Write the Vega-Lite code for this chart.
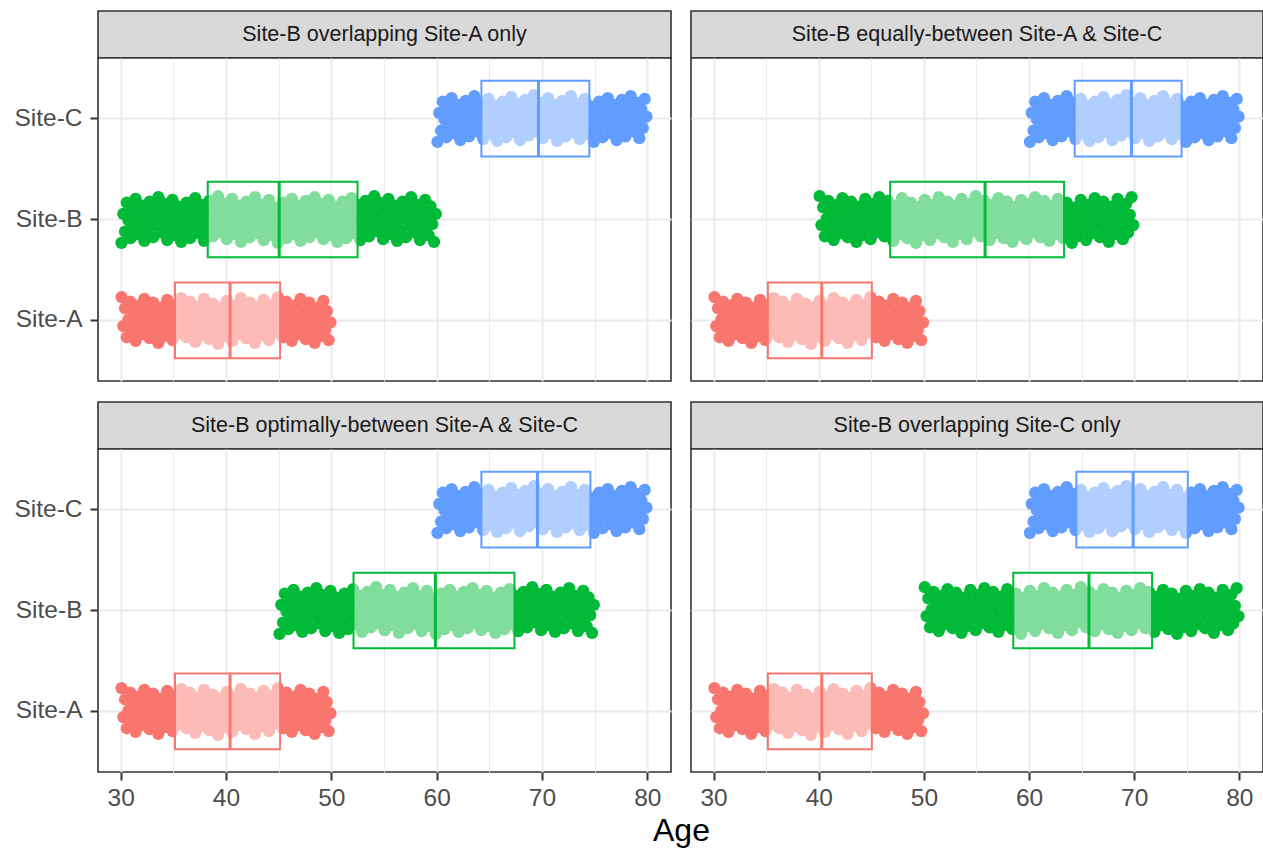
{
"$schema": "https://vega.github.io/schema/vega-lite/v6.json",
"padding": {"left": 13, "top": 10, "right": 0, "bottom": 0},
"background": "white",
"config": {"font": "Liberation Sans", "view": {"stroke": null}},
"title": {"text": "Age", "orient": "bottom", "anchor": "middle", "frame": "bounds", "dx": 43, "fontSize": 32, "fontWeight": "normal", "color": "#000000", "font": "Liberation Sans", "offset": 6},
"datasets": {
"strips": [
{"p": 1, "t": "Site-B overlapping Site-A only"},
{"p": 2, "t": "Site-B equally-between Site-A & Site-C"},
{"p": 3, "t": "Site-B optimally-between Site-A & Site-C"},
{"p": 4, "t": "Site-B overlapping Site-C only"}
],
"box": [
{"p": 1, "s": "Site-A", "q1": 35.16, "m": 40.39, "q3": 45.14},
{"p": 1, "s": "Site-B", "q1": 38.27, "m": 45.05, "q3": 52.49},
{"p": 1, "s": "Site-C", "q1": 64.25, "m": 69.67, "q3": 74.5},
{"p": 2, "s": "Site-A", "q1": 35.16, "m": 40.29, "q3": 45.05},
{"p": 2, "s": "Site-B", "q1": 46.79, "m": 55.82, "q3": 63.33},
{"p": 2, "s": "Site-C", "q1": 64.34, "m": 69.74, "q3": 74.51},
{"p": 3, "s": "Site-A", "q1": 35.16, "m": 40.39, "q3": 45.14},
{"p": 3, "s": "Site-B", "q1": 52.11, "m": 59.88, "q3": 67.39},
{"p": 3, "s": "Site-C", "q1": 64.25, "m": 69.57, "q3": 74.6},
{"p": 4, "s": "Site-A", "q1": 35.16, "m": 40.29, "q3": 45.05},
{"p": 4, "s": "Site-B", "q1": 58.5, "m": 65.7, "q3": 71.7},
{"p": 4, "s": "Site-C", "q1": 64.5, "m": 69.9, "q3": 75.1}
],
"A": [
{"x":30.08,"j":-25},{"x":30.25,"j":6},{"x":30.42,"j":-13},{"x":30.58,"j":18},{"x":30.75,"j":-1},{"x":30.92,"j":-20},
{"x":31.08,"j":10},{"x":31.25,"j":-9},{"x":31.42,"j":22},{"x":31.58,"j":3},{"x":31.75,"j":-16},{"x":31.92,"j":15},
{"x":32.08,"j":-4},{"x":32.25,"j":-23},{"x":32.42,"j":8},{"x":32.58,"j":-11},{"x":32.75,"j":19},{"x":32.92,"j":0},
{"x":33.08,"j":-19},{"x":33.25,"j":12},{"x":33.42,"j":-7},{"x":33.58,"j":24},{"x":33.75,"j":5},{"x":33.92,"j":-14},
{"x":34.08,"j":17},{"x":34.25,"j":-2},{"x":34.42,"j":-22},{"x":34.58,"j":9},{"x":34.75,"j":-10},{"x":34.92,"j":21},
{"x":35.08,"j":2},{"x":35.25,"j":-17},{"x":35.42,"j":14},{"x":35.58,"j":-5},{"x":35.75,"j":-24},{"x":35.92,"j":7},
{"x":36.08,"j":-13},{"x":36.25,"j":18},{"x":36.42,"j":-1},{"x":36.58,"j":-20},{"x":36.75,"j":11},{"x":36.92,"j":-8},
{"x":37.08,"j":23},{"x":37.25,"j":4},{"x":37.42,"j":-15},{"x":37.58,"j":16},{"x":37.75,"j":-4},{"x":37.92,"j":-23},
{"x":38.08,"j":8},{"x":38.25,"j":-11},{"x":38.42,"j":20},{"x":38.58,"j":1},{"x":38.75,"j":-18},{"x":38.92,"j":13},
{"x":39.08,"j":-6},{"x":39.25,"j":25},{"x":39.42,"j":5},{"x":39.58,"j":-14},{"x":39.75,"j":17},{"x":39.92,"j":-2},
{"x":40.08,"j":-21},{"x":40.25,"j":10},{"x":40.42,"j":-9},{"x":40.58,"j":22},{"x":40.75,"j":3},{"x":40.92,"j":-16},
{"x":41.08,"j":15},{"x":41.25,"j":-5},{"x":41.42,"j":-24},{"x":41.58,"j":7},{"x":41.75,"j":-12},{"x":41.92,"j":19},
{"x":42.08,"j":0},{"x":42.25,"j":-19},{"x":42.42,"j":12},{"x":42.58,"j":-7},{"x":42.75,"j":24},{"x":42.92,"j":4},
{"x":43.08,"j":-15},{"x":43.25,"j":16},{"x":43.42,"j":-3},{"x":43.58,"j":-22},{"x":43.75,"j":9},{"x":43.92,"j":-10},
{"x":44.08,"j":21},{"x":44.25,"j":2},{"x":44.42,"j":-17},{"x":44.58,"j":13},{"x":44.75,"j":-6},{"x":44.92,"j":-25},
{"x":45.08,"j":6},{"x":45.25,"j":-13},{"x":45.42,"j":18},{"x":45.58,"j":-1},{"x":45.75,"j":-20},{"x":45.92,"j":11},
{"x":46.08,"j":-8},{"x":46.25,"j":22},{"x":46.42,"j":3},{"x":46.58,"j":-16},{"x":46.75,"j":15},{"x":46.92,"j":-4},
{"x":47.08,"j":-23},{"x":47.25,"j":8},{"x":47.42,"j":-11},{"x":47.58,"j":20},{"x":47.75,"j":1},{"x":47.92,"j":-19},
{"x":48.08,"j":12},{"x":48.25,"j":-7},{"x":48.42,"j":24},{"x":48.58,"j":5},{"x":48.75,"j":-14},{"x":48.92,"j":17},
{"x":49.08,"j":-2},{"x":49.25,"j":-21},{"x":49.42,"j":10},{"x":49.58,"j":-10},{"x":49.75,"j":21},{"x":49.92,"j":2}
],
"C": [
{"x":60.08,"j":25},{"x":60.25,"j":-6},{"x":60.42,"j":13},{"x":60.58,"j":-18},{"x":60.75,"j":1},{"x":60.92,"j":20},
{"x":61.08,"j":-10},{"x":61.25,"j":9},{"x":61.42,"j":-22},{"x":61.58,"j":-3},{"x":61.75,"j":16},{"x":61.92,"j":-15},
{"x":62.08,"j":4},{"x":62.25,"j":23},{"x":62.42,"j":-8},{"x":62.58,"j":11},{"x":62.75,"j":-19},{"x":62.92,"j":0},
{"x":63.08,"j":19},{"x":63.25,"j":-12},{"x":63.42,"j":7},{"x":63.58,"j":-24},{"x":63.75,"j":-5},{"x":63.92,"j":14},
{"x":64.08,"j":-17},{"x":64.25,"j":2},{"x":64.42,"j":22},{"x":64.58,"j":-9},{"x":64.75,"j":10},{"x":64.92,"j":-21},
{"x":65.08,"j":-2},{"x":65.25,"j":17},{"x":65.42,"j":-14},{"x":65.58,"j":5},{"x":65.75,"j":24},{"x":65.92,"j":-7},
{"x":66.08,"j":13},{"x":66.25,"j":-18},{"x":66.42,"j":1},{"x":66.58,"j":20},{"x":66.75,"j":-11},{"x":66.92,"j":8},
{"x":67.08,"j":-23},{"x":67.25,"j":-4},{"x":67.42,"j":15},{"x":67.58,"j":-16},{"x":67.75,"j":4},{"x":67.92,"j":23},
{"x":68.08,"j":-8},{"x":68.25,"j":11},{"x":68.42,"j":-20},{"x":68.58,"j":-1},{"x":68.75,"j":18},{"x":68.92,"j":-13},
{"x":69.08,"j":6},{"x":69.25,"j":-25},{"x":69.42,"j":-5},{"x":69.58,"j":14},{"x":69.75,"j":-17},{"x":69.92,"j":2},
{"x":70.08,"j":21},{"x":70.25,"j":-10},{"x":70.42,"j":9},{"x":70.58,"j":-22},{"x":70.75,"j":-3},{"x":70.92,"j":16},
{"x":71.08,"j":-15},{"x":71.25,"j":5},{"x":71.42,"j":24},{"x":71.58,"j":-7},{"x":71.75,"j":12},{"x":71.92,"j":-19},
{"x":72.08,"j":0},{"x":72.25,"j":19},{"x":72.42,"j":-12},{"x":72.58,"j":7},{"x":72.75,"j":-24},{"x":72.92,"j":-4},
{"x":73.08,"j":15},{"x":73.25,"j":-16},{"x":73.42,"j":3},{"x":73.58,"j":22},{"x":73.75,"j":-9},{"x":73.92,"j":10},
{"x":74.08,"j":-21},{"x":74.25,"j":-2},{"x":74.42,"j":17},{"x":74.58,"j":-13},{"x":74.75,"j":6},{"x":74.92,"j":25},
{"x":75.08,"j":-6},{"x":75.25,"j":13},{"x":75.42,"j":-18},{"x":75.58,"j":1},{"x":75.75,"j":20},{"x":75.92,"j":-11},
{"x":76.08,"j":8},{"x":76.25,"j":-22},{"x":76.42,"j":-3},{"x":76.58,"j":16},{"x":76.75,"j":-15},{"x":76.92,"j":4},
{"x":77.08,"j":23},{"x":77.25,"j":-8},{"x":77.42,"j":11},{"x":77.58,"j":-20},{"x":77.75,"j":-1},{"x":77.92,"j":19},
{"x":78.08,"j":-12},{"x":78.25,"j":7},{"x":78.42,"j":-24},{"x":78.58,"j":-5},{"x":78.75,"j":14},{"x":78.92,"j":-17},
{"x":79.08,"j":2},{"x":79.25,"j":21},{"x":79.42,"j":-10},{"x":79.58,"j":10},{"x":79.75,"j":-21},{"x":79.92,"j":-2}
],
"B1": [
{"x":30.08,"j":25},{"x":30.25,"j":-6},{"x":30.42,"j":13},{"x":30.58,"j":-18},{"x":30.75,"j":1},{"x":30.92,"j":20},
{"x":31.08,"j":-10},{"x":31.25,"j":9},{"x":31.42,"j":-22},{"x":31.58,"j":-3},{"x":31.75,"j":16},{"x":31.92,"j":-15},
{"x":32.08,"j":4},{"x":32.25,"j":23},{"x":32.42,"j":-8},{"x":32.58,"j":11},{"x":32.75,"j":-19},{"x":32.92,"j":0},
{"x":33.08,"j":19},{"x":33.25,"j":-12},{"x":33.42,"j":7},{"x":33.58,"j":-24},{"x":33.75,"j":-5},{"x":33.92,"j":14},
{"x":34.08,"j":-17},{"x":34.25,"j":2},{"x":34.42,"j":22},{"x":34.58,"j":-9},{"x":34.75,"j":10},{"x":34.92,"j":-21},
{"x":35.08,"j":-2},{"x":35.25,"j":17},{"x":35.42,"j":-14},{"x":35.58,"j":5},{"x":35.75,"j":24},{"x":35.92,"j":-7},
{"x":36.08,"j":13},{"x":36.25,"j":-18},{"x":36.42,"j":1},{"x":36.58,"j":20},{"x":36.75,"j":-11},{"x":36.92,"j":8},
{"x":37.08,"j":-23},{"x":37.25,"j":-4},{"x":37.42,"j":15},{"x":37.58,"j":-16},{"x":37.75,"j":4},{"x":37.92,"j":23},
{"x":38.08,"j":-8},{"x":38.25,"j":11},{"x":38.42,"j":-20},{"x":38.58,"j":-1},{"x":38.75,"j":18},{"x":38.92,"j":-13},
{"x":39.08,"j":6},{"x":39.25,"j":-25},{"x":39.42,"j":-5},{"x":39.58,"j":14},{"x":39.75,"j":-17},{"x":39.92,"j":2},
{"x":40.08,"j":21},{"x":40.25,"j":-10},{"x":40.42,"j":9},{"x":40.58,"j":-22},{"x":40.75,"j":-3},{"x":40.92,"j":16},
{"x":41.08,"j":-15},{"x":41.25,"j":5},{"x":41.42,"j":24},{"x":41.58,"j":-7},{"x":41.75,"j":12},{"x":41.92,"j":-19},
{"x":42.08,"j":0},{"x":42.25,"j":19},{"x":42.42,"j":-12},{"x":42.58,"j":7},{"x":42.75,"j":-24},{"x":42.92,"j":-4},
{"x":43.08,"j":15},{"x":43.25,"j":-16},{"x":43.42,"j":3},{"x":43.58,"j":22},{"x":43.75,"j":-9},{"x":43.92,"j":10},
{"x":44.08,"j":-21},{"x":44.25,"j":-2},{"x":44.42,"j":17},{"x":44.58,"j":-13},{"x":44.75,"j":6},{"x":44.92,"j":25},
{"x":45.08,"j":-6},{"x":45.25,"j":13},{"x":45.42,"j":-18},{"x":45.58,"j":1},{"x":45.75,"j":20},{"x":45.92,"j":-11},
{"x":46.08,"j":8},{"x":46.25,"j":-22},{"x":46.42,"j":-3},{"x":46.58,"j":16},{"x":46.75,"j":-15},{"x":46.92,"j":4},
{"x":47.08,"j":23},{"x":47.25,"j":-8},{"x":47.42,"j":11},{"x":47.58,"j":-20},{"x":47.75,"j":-1},{"x":47.92,"j":19},
{"x":48.08,"j":-12},{"x":48.25,"j":7},{"x":48.42,"j":-24},{"x":48.58,"j":-5},{"x":48.75,"j":14},{"x":48.92,"j":-17},
{"x":49.08,"j":2},{"x":49.25,"j":21},{"x":49.42,"j":-10},{"x":49.58,"j":10},{"x":49.75,"j":-21},{"x":49.92,"j":-2},
{"x":50.08,"j":17},{"x":50.25,"j":-14},{"x":50.42,"j":5},{"x":50.58,"j":24},{"x":50.75,"j":-7},{"x":50.92,"j":12},
{"x":51.08,"j":-19},{"x":51.25,"j":0},{"x":51.42,"j":20},{"x":51.58,"j":-11},{"x":51.75,"j":8},{"x":51.92,"j":-23},
{"x":52.08,"j":-4},{"x":52.25,"j":15},{"x":52.42,"j":-16},{"x":52.58,"j":3},{"x":52.75,"j":22},{"x":52.92,"j":-9},
{"x":53.08,"j":11},{"x":53.25,"j":-20},{"x":53.42,"j":-1},{"x":53.58,"j":18},{"x":53.75,"j":-13},{"x":53.92,"j":6},
{"x":54.08,"j":-25},{"x":54.25,"j":-6},{"x":54.42,"j":13},{"x":54.58,"j":-18},{"x":54.75,"j":2},{"x":54.92,"j":21},
{"x":55.08,"j":-10},{"x":55.25,"j":9},{"x":55.42,"j":-22},{"x":55.58,"j":-3},{"x":55.75,"j":16},{"x":55.92,"j":-15},
{"x":56.08,"j":4},{"x":56.25,"j":23},{"x":56.42,"j":-7},{"x":56.58,"j":12},{"x":56.75,"j":-19},{"x":56.92,"j":0},
{"x":57.08,"j":19},{"x":57.25,"j":-12},{"x":57.42,"j":7},{"x":57.58,"j":-24},{"x":57.75,"j":-5},{"x":57.92,"j":14},
{"x":58.08,"j":-16},{"x":58.25,"j":3},{"x":58.42,"j":22},{"x":58.58,"j":-9},{"x":58.75,"j":10},{"x":58.92,"j":-21},
{"x":59.08,"j":-2},{"x":59.25,"j":17},{"x":59.42,"j":-14},{"x":59.58,"j":5},{"x":59.75,"j":24},{"x":59.92,"j":-6}
],
"B2": [
{"x":40.08,"j":-25},{"x":40.25,"j":6},{"x":40.42,"j":-13},{"x":40.58,"j":18},{"x":40.75,"j":-1},{"x":40.92,"j":-20},
{"x":41.08,"j":10},{"x":41.25,"j":-9},{"x":41.42,"j":22},{"x":41.58,"j":3},{"x":41.75,"j":-16},{"x":41.92,"j":15},
{"x":42.08,"j":-4},{"x":42.25,"j":-23},{"x":42.42,"j":8},{"x":42.58,"j":-11},{"x":42.75,"j":19},{"x":42.92,"j":0},
{"x":43.08,"j":-19},{"x":43.25,"j":12},{"x":43.42,"j":-7},{"x":43.58,"j":24},{"x":43.75,"j":5},{"x":43.92,"j":-14},
{"x":44.08,"j":17},{"x":44.25,"j":-2},{"x":44.42,"j":-22},{"x":44.58,"j":9},{"x":44.75,"j":-10},{"x":44.92,"j":21},
{"x":45.08,"j":2},{"x":45.25,"j":-17},{"x":45.42,"j":14},{"x":45.58,"j":-5},{"x":45.75,"j":-24},{"x":45.92,"j":7},
{"x":46.08,"j":-13},{"x":46.25,"j":18},{"x":46.42,"j":-1},{"x":46.58,"j":-20},{"x":46.75,"j":11},{"x":46.92,"j":-8},
{"x":47.08,"j":23},{"x":47.25,"j":4},{"x":47.42,"j":-15},{"x":47.58,"j":16},{"x":47.75,"j":-4},{"x":47.92,"j":-23},
{"x":48.08,"j":8},{"x":48.25,"j":-11},{"x":48.42,"j":20},{"x":48.58,"j":1},{"x":48.75,"j":-18},{"x":48.92,"j":13},
{"x":49.08,"j":-6},{"x":49.25,"j":25},{"x":49.42,"j":5},{"x":49.58,"j":-14},{"x":49.75,"j":17},{"x":49.92,"j":-2},
{"x":50.08,"j":-21},{"x":50.25,"j":10},{"x":50.42,"j":-9},{"x":50.58,"j":22},{"x":50.75,"j":3},{"x":50.92,"j":-16},
{"x":51.08,"j":15},{"x":51.25,"j":-5},{"x":51.42,"j":-24},{"x":51.58,"j":7},{"x":51.75,"j":-12},{"x":51.92,"j":19},
{"x":52.08,"j":0},{"x":52.25,"j":-19},{"x":52.42,"j":12},{"x":52.58,"j":-7},{"x":52.75,"j":24},{"x":52.92,"j":4},
{"x":53.08,"j":-15},{"x":53.25,"j":16},{"x":53.42,"j":-3},{"x":53.58,"j":-22},{"x":53.75,"j":9},{"x":53.92,"j":-10},
{"x":54.08,"j":21},{"x":54.25,"j":2},{"x":54.42,"j":-17},{"x":54.58,"j":13},{"x":54.75,"j":-6},{"x":54.92,"j":-25},
{"x":55.08,"j":6},{"x":55.25,"j":-13},{"x":55.42,"j":18},{"x":55.58,"j":-1},{"x":55.75,"j":-20},{"x":55.92,"j":11},
{"x":56.08,"j":-8},{"x":56.25,"j":22},{"x":56.42,"j":3},{"x":56.58,"j":-16},{"x":56.75,"j":15},{"x":56.92,"j":-4},
{"x":57.08,"j":-23},{"x":57.25,"j":8},{"x":57.42,"j":-11},{"x":57.58,"j":20},{"x":57.75,"j":1},{"x":57.92,"j":-19},
{"x":58.08,"j":12},{"x":58.25,"j":-7},{"x":58.42,"j":24},{"x":58.58,"j":5},{"x":58.75,"j":-14},{"x":58.92,"j":17},
{"x":59.08,"j":-2},{"x":59.25,"j":-21},{"x":59.42,"j":10},{"x":59.58,"j":-10},{"x":59.75,"j":21},{"x":59.92,"j":2},
{"x":60.08,"j":-17},{"x":60.25,"j":14},{"x":60.42,"j":-5},{"x":60.58,"j":-24},{"x":60.75,"j":7},{"x":60.92,"j":-12},
{"x":61.08,"j":19},{"x":61.25,"j":0},{"x":61.42,"j":-20},{"x":61.58,"j":11},{"x":61.75,"j":-8},{"x":61.92,"j":23},
{"x":62.08,"j":4},{"x":62.25,"j":-15},{"x":62.42,"j":16},{"x":62.58,"j":-3},{"x":62.75,"j":-22},{"x":62.92,"j":9},
{"x":63.08,"j":-11},{"x":63.25,"j":20},{"x":63.42,"j":1},{"x":63.58,"j":-18},{"x":63.75,"j":13},{"x":63.92,"j":-6},
{"x":64.08,"j":25},{"x":64.25,"j":6},{"x":64.42,"j":-13},{"x":64.58,"j":18},{"x":64.75,"j":-2},{"x":64.92,"j":-21},
{"x":65.08,"j":10},{"x":65.25,"j":-9},{"x":65.42,"j":22},{"x":65.58,"j":3},{"x":65.75,"j":-16},{"x":65.92,"j":15},
{"x":66.08,"j":-4},{"x":66.25,"j":-23},{"x":66.42,"j":7},{"x":66.58,"j":-12},{"x":66.75,"j":19},{"x":66.92,"j":0},
{"x":67.08,"j":-19},{"x":67.25,"j":12},{"x":67.42,"j":-7},{"x":67.58,"j":24},{"x":67.75,"j":5},{"x":67.92,"j":-14},
{"x":68.08,"j":16},{"x":68.25,"j":-3},{"x":68.42,"j":-22},{"x":68.58,"j":9},{"x":68.75,"j":-10},{"x":68.92,"j":21},
{"x":69.08,"j":2},{"x":69.25,"j":-17},{"x":69.42,"j":14},{"x":69.58,"j":-5},{"x":69.75,"j":-24},{"x":69.92,"j":6}
],
"B3": [
{"x":45.08,"j":25},{"x":45.25,"j":-6},{"x":45.42,"j":13},{"x":45.58,"j":-18},{"x":45.75,"j":1},{"x":45.92,"j":20},
{"x":46.08,"j":-10},{"x":46.25,"j":9},{"x":46.42,"j":-22},{"x":46.58,"j":-3},{"x":46.75,"j":16},{"x":46.92,"j":-15},
{"x":47.08,"j":4},{"x":47.25,"j":23},{"x":47.42,"j":-8},{"x":47.58,"j":11},{"x":47.75,"j":-19},{"x":47.92,"j":0},
{"x":48.08,"j":19},{"x":48.25,"j":-12},{"x":48.42,"j":7},{"x":48.58,"j":-24},{"x":48.75,"j":-5},{"x":48.92,"j":14},
{"x":49.08,"j":-17},{"x":49.25,"j":2},{"x":49.42,"j":22},{"x":49.58,"j":-9},{"x":49.75,"j":10},{"x":49.92,"j":-21},
{"x":50.08,"j":-2},{"x":50.25,"j":17},{"x":50.42,"j":-14},{"x":50.58,"j":5},{"x":50.75,"j":24},{"x":50.92,"j":-7},
{"x":51.08,"j":13},{"x":51.25,"j":-18},{"x":51.42,"j":1},{"x":51.58,"j":20},{"x":51.75,"j":-11},{"x":51.92,"j":8},
{"x":52.08,"j":-23},{"x":52.25,"j":-4},{"x":52.42,"j":15},{"x":52.58,"j":-16},{"x":52.75,"j":4},{"x":52.92,"j":23},
{"x":53.08,"j":-8},{"x":53.25,"j":11},{"x":53.42,"j":-20},{"x":53.58,"j":-1},{"x":53.75,"j":18},{"x":53.92,"j":-13},
{"x":54.08,"j":6},{"x":54.25,"j":-25},{"x":54.42,"j":-5},{"x":54.58,"j":14},{"x":54.75,"j":-17},{"x":54.92,"j":2},
{"x":55.08,"j":21},{"x":55.25,"j":-10},{"x":55.42,"j":9},{"x":55.58,"j":-22},{"x":55.75,"j":-3},{"x":55.92,"j":16},
{"x":56.08,"j":-15},{"x":56.25,"j":5},{"x":56.42,"j":24},{"x":56.58,"j":-7},{"x":56.75,"j":12},{"x":56.92,"j":-19},
{"x":57.08,"j":0},{"x":57.25,"j":19},{"x":57.42,"j":-12},{"x":57.58,"j":7},{"x":57.75,"j":-24},{"x":57.92,"j":-4},
{"x":58.08,"j":15},{"x":58.25,"j":-16},{"x":58.42,"j":3},{"x":58.58,"j":22},{"x":58.75,"j":-9},{"x":58.92,"j":10},
{"x":59.08,"j":-21},{"x":59.25,"j":-2},{"x":59.42,"j":17},{"x":59.58,"j":-13},{"x":59.75,"j":6},{"x":59.92,"j":25},
{"x":60.08,"j":-6},{"x":60.25,"j":13},{"x":60.42,"j":-18},{"x":60.58,"j":1},{"x":60.75,"j":20},{"x":60.92,"j":-11},
{"x":61.08,"j":8},{"x":61.25,"j":-22},{"x":61.42,"j":-3},{"x":61.58,"j":16},{"x":61.75,"j":-15},{"x":61.92,"j":4},
{"x":62.08,"j":23},{"x":62.25,"j":-8},{"x":62.42,"j":11},{"x":62.58,"j":-20},{"x":62.75,"j":-1},{"x":62.92,"j":19},
{"x":63.08,"j":-12},{"x":63.25,"j":7},{"x":63.42,"j":-24},{"x":63.58,"j":-5},{"x":63.75,"j":14},{"x":63.92,"j":-17},
{"x":64.08,"j":2},{"x":64.25,"j":21},{"x":64.42,"j":-10},{"x":64.58,"j":10},{"x":64.75,"j":-21},{"x":64.92,"j":-2},
{"x":65.08,"j":17},{"x":65.25,"j":-14},{"x":65.42,"j":5},{"x":65.58,"j":24},{"x":65.75,"j":-7},{"x":65.92,"j":12},
{"x":66.08,"j":-19},{"x":66.25,"j":0},{"x":66.42,"j":20},{"x":66.58,"j":-11},{"x":66.75,"j":8},{"x":66.92,"j":-23},
{"x":67.08,"j":-4},{"x":67.25,"j":15},{"x":67.42,"j":-16},{"x":67.58,"j":3},{"x":67.75,"j":22},{"x":67.92,"j":-9},
{"x":68.08,"j":11},{"x":68.25,"j":-20},{"x":68.42,"j":-1},{"x":68.58,"j":18},{"x":68.75,"j":-13},{"x":68.92,"j":6},
{"x":69.08,"j":-25},{"x":69.25,"j":-6},{"x":69.42,"j":13},{"x":69.58,"j":-18},{"x":69.75,"j":2},{"x":69.92,"j":21},
{"x":70.08,"j":-10},{"x":70.25,"j":9},{"x":70.42,"j":-22},{"x":70.58,"j":-3},{"x":70.75,"j":16},{"x":70.92,"j":-15},
{"x":71.08,"j":4},{"x":71.25,"j":23},{"x":71.42,"j":-7},{"x":71.58,"j":12},{"x":71.75,"j":-19},{"x":71.92,"j":0},
{"x":72.08,"j":19},{"x":72.25,"j":-12},{"x":72.42,"j":7},{"x":72.58,"j":-24},{"x":72.75,"j":-5},{"x":72.92,"j":14},
{"x":73.08,"j":-16},{"x":73.25,"j":3},{"x":73.42,"j":22},{"x":73.58,"j":-9},{"x":73.75,"j":10},{"x":73.92,"j":-21},
{"x":74.08,"j":-2},{"x":74.25,"j":17},{"x":74.42,"j":-14},{"x":74.58,"j":5},{"x":74.75,"j":24},{"x":74.92,"j":-6}
],
"B4": [
{"x":50.08,"j":-25},{"x":50.25,"j":6},{"x":50.42,"j":-13},{"x":50.58,"j":18},{"x":50.75,"j":-1},{"x":50.92,"j":-20},
{"x":51.08,"j":10},{"x":51.25,"j":-9},{"x":51.42,"j":22},{"x":51.58,"j":3},{"x":51.75,"j":-16},{"x":51.92,"j":15},
{"x":52.08,"j":-4},{"x":52.25,"j":-23},{"x":52.42,"j":8},{"x":52.58,"j":-11},{"x":52.75,"j":19},{"x":52.92,"j":0},
{"x":53.08,"j":-19},{"x":53.25,"j":12},{"x":53.42,"j":-7},{"x":53.58,"j":24},{"x":53.75,"j":5},{"x":53.92,"j":-14},
{"x":54.08,"j":17},{"x":54.25,"j":-2},{"x":54.42,"j":-22},{"x":54.58,"j":9},{"x":54.75,"j":-10},{"x":54.92,"j":21},
{"x":55.08,"j":2},{"x":55.25,"j":-17},{"x":55.42,"j":14},{"x":55.58,"j":-5},{"x":55.75,"j":-24},{"x":55.92,"j":7},
{"x":56.08,"j":-13},{"x":56.25,"j":18},{"x":56.42,"j":-1},{"x":56.58,"j":-20},{"x":56.75,"j":11},{"x":56.92,"j":-8},
{"x":57.08,"j":23},{"x":57.25,"j":4},{"x":57.42,"j":-15},{"x":57.58,"j":16},{"x":57.75,"j":-4},{"x":57.92,"j":-23},
{"x":58.08,"j":8},{"x":58.25,"j":-11},{"x":58.42,"j":20},{"x":58.58,"j":1},{"x":58.75,"j":-18},{"x":58.92,"j":13},
{"x":59.08,"j":-6},{"x":59.25,"j":25},{"x":59.42,"j":5},{"x":59.58,"j":-14},{"x":59.75,"j":17},{"x":59.92,"j":-2},
{"x":60.08,"j":-21},{"x":60.25,"j":10},{"x":60.42,"j":-9},{"x":60.58,"j":22},{"x":60.75,"j":3},{"x":60.92,"j":-16},
{"x":61.08,"j":15},{"x":61.25,"j":-5},{"x":61.42,"j":-24},{"x":61.58,"j":7},{"x":61.75,"j":-12},{"x":61.92,"j":19},
{"x":62.08,"j":0},{"x":62.25,"j":-19},{"x":62.42,"j":12},{"x":62.58,"j":-7},{"x":62.75,"j":24},{"x":62.92,"j":4},
{"x":63.08,"j":-15},{"x":63.25,"j":16},{"x":63.42,"j":-3},{"x":63.58,"j":-22},{"x":63.75,"j":9},{"x":63.92,"j":-10},
{"x":64.08,"j":21},{"x":64.25,"j":2},{"x":64.42,"j":-17},{"x":64.58,"j":13},{"x":64.75,"j":-6},{"x":64.92,"j":-25},
{"x":65.08,"j":6},{"x":65.25,"j":-13},{"x":65.42,"j":18},{"x":65.58,"j":-1},{"x":65.75,"j":-20},{"x":65.92,"j":11},
{"x":66.08,"j":-8},{"x":66.25,"j":22},{"x":66.42,"j":3},{"x":66.58,"j":-16},{"x":66.75,"j":15},{"x":66.92,"j":-4},
{"x":67.08,"j":-23},{"x":67.25,"j":8},{"x":67.42,"j":-11},{"x":67.58,"j":20},{"x":67.75,"j":1},{"x":67.92,"j":-19},
{"x":68.08,"j":12},{"x":68.25,"j":-7},{"x":68.42,"j":24},{"x":68.58,"j":5},{"x":68.75,"j":-14},{"x":68.92,"j":17},
{"x":69.08,"j":-2},{"x":69.25,"j":-21},{"x":69.42,"j":10},{"x":69.58,"j":-10},{"x":69.75,"j":21},{"x":69.92,"j":2},
{"x":70.08,"j":-17},{"x":70.25,"j":14},{"x":70.42,"j":-5},{"x":70.58,"j":-24},{"x":70.75,"j":7},{"x":70.92,"j":-12},
{"x":71.08,"j":19},{"x":71.25,"j":0},{"x":71.42,"j":-20},{"x":71.58,"j":11},{"x":71.75,"j":-8},{"x":71.92,"j":23},
{"x":72.08,"j":4},{"x":72.25,"j":-15},{"x":72.42,"j":16},{"x":72.58,"j":-3},{"x":72.75,"j":-22},{"x":72.92,"j":9},
{"x":73.08,"j":-11},{"x":73.25,"j":20},{"x":73.42,"j":1},{"x":73.58,"j":-18},{"x":73.75,"j":13},{"x":73.92,"j":-6},
{"x":74.08,"j":25},{"x":74.25,"j":6},{"x":74.42,"j":-13},{"x":74.58,"j":18},{"x":74.75,"j":-2},{"x":74.92,"j":-21},
{"x":75.08,"j":10},{"x":75.25,"j":-9},{"x":75.42,"j":22},{"x":75.58,"j":3},{"x":75.75,"j":-16},{"x":75.92,"j":15},
{"x":76.08,"j":-4},{"x":76.25,"j":-23},{"x":76.42,"j":7},{"x":76.58,"j":-12},{"x":76.75,"j":19},{"x":76.92,"j":0},
{"x":77.08,"j":-19},{"x":77.25,"j":12},{"x":77.42,"j":-7},{"x":77.58,"j":24},{"x":77.75,"j":5},{"x":77.92,"j":-14},
{"x":78.08,"j":16},{"x":78.25,"j":-3},{"x":78.42,"j":-22},{"x":78.58,"j":9},{"x":78.75,"j":-10},{"x":78.92,"j":21},
{"x":79.08,"j":2},{"x":79.25,"j":-17},{"x":79.42,"j":14},{"x":79.58,"j":-5},{"x":79.75,"j":-24},{"x":79.92,"j":6}
]
},
"spacing": 19,
"vconcat": [
{"spacing": 18, "hconcat": [
 {"bounds": "flush", "spacing": 0, "vconcat": [
  {"width": 573, "height": 47, "view": {"fill": "#D9D9D9", "stroke": "#333333", "strokeWidth": 1.6}, "data": {"name": "strips"}, "transform": [{"filter": "datum.p == 1"}], "mark": {"type": "text", "fontSize": 21.5, "color": "#1A1A1A"}, "encoding": {"text": {"field": "t"}}},
  {"width": 573, "height": 323, "view": {"fill": "white", "stroke": "#333333", "strokeWidth": 1.6}, "resolve": {"scale": {"yOffset": "independent"}}, "layer": [
   {"data": {"name": "A"}, "mark": {"type": "circle", "size": 150, "color": "#F8766D", "opacity": 1}, "encoding": {
     "x": {"field": "x", "type": "quantitative", "scale": {"domain": [27.85, 82.25], "nice": false, "zero": false}, "axis": {"title": null, "domain": false, "grid": true, "values": [30,35,40,45,50,55,60,65,70,75,80], "labels": false, "ticks": false, "gridColor": "#EBEBEB", "gridWidth": {"condition": {"test": "datum.value % 10 !== 0", "value": 1.1}, "value": 2}}},
     "y": {"datum": "Site-A", "type": "nominal", "scale": {"type": "band", "domain": ["Site-C","Site-B","Site-A"], "paddingInner": 0, "paddingOuter": 0.1}, "axis": {"title": null, "domain": false, "grid": true, "bandPosition": 0.5, "labelFontSize": 24.5, "labelColor": "#4D4D4D", "labelPadding": 8, "tickSize": 8, "tickWidth": 2, "tickColor": "#333333", "gridColor": "#EBEBEB", "gridWidth": 2}},
     "yOffset": {"field": "j", "type": "quantitative", "scale": {"domain": [-54, 54], "nice": false, "zero": false}}}},
   {"data": {"name": "B1"}, "mark": {"type": "circle", "size": 150, "color": "#00BA38", "opacity": 1}, "encoding": {
     "x": {"field": "x", "type": "quantitative", "axis": {"title": null, "domain": false, "grid": true, "values": [30,35,40,45,50,55,60,65,70,75,80], "labels": false, "ticks": false, "gridColor": "#EBEBEB", "gridWidth": {"condition": {"test": "datum.value % 10 !== 0", "value": 1.1}, "value": 2}}},
     "y": {"datum": "Site-B", "type": "nominal", "axis": {"title": null, "domain": false, "grid": true, "bandPosition": 0.5, "labelFontSize": 24.5, "labelColor": "#4D4D4D", "labelPadding": 8, "tickSize": 8, "tickWidth": 2, "tickColor": "#333333", "gridColor": "#EBEBEB", "gridWidth": 2}},
     "yOffset": {"field": "j", "type": "quantitative", "scale": {"domain": [-54, 54], "nice": false, "zero": false}}}},
   {"data": {"name": "C"}, "mark": {"type": "circle", "size": 150, "color": "#619CFF", "opacity": 1}, "encoding": {
     "x": {"field": "x", "type": "quantitative", "axis": {"title": null, "domain": false, "grid": true, "values": [30,35,40,45,50,55,60,65,70,75,80], "labels": false, "ticks": false, "gridColor": "#EBEBEB", "gridWidth": {"condition": {"test": "datum.value % 10 !== 0", "value": 1.1}, "value": 2}}},
     "y": {"datum": "Site-C", "type": "nominal", "axis": {"title": null, "domain": false, "grid": true, "bandPosition": 0.5, "labelFontSize": 24.5, "labelColor": "#4D4D4D", "labelPadding": 8, "tickSize": 8, "tickWidth": 2, "tickColor": "#333333", "gridColor": "#EBEBEB", "gridWidth": 2}},
     "yOffset": {"field": "j", "type": "quantitative", "scale": {"domain": [-54, 54], "nice": false, "zero": false}}}},
   {"data": {"name": "box"}, "transform": [{"filter": "datum.p == 1"}], "mark": {"type": "bar", "height": {"band": 0.75}, "fill": "#FFFFFF", "fillOpacity": 0.5, "strokeWidth": 2}, "encoding": {
     "x": {"field": "q1", "type": "quantitative", "axis": {"title": null, "domain": false, "grid": true, "values": [30,35,40,45,50,55,60,65,70,75,80], "labels": false, "ticks": false, "gridColor": "#EBEBEB", "gridWidth": {"condition": {"test": "datum.value % 10 !== 0", "value": 1.1}, "value": 2}}},
     "x2": {"field": "q3"},
     "y": {"field": "s", "type": "nominal", "axis": {"title": null, "domain": false, "grid": true, "bandPosition": 0.5, "labelFontSize": 24.5, "labelColor": "#4D4D4D", "labelPadding": 8, "tickSize": 8, "tickWidth": 2, "tickColor": "#333333", "gridColor": "#EBEBEB", "gridWidth": 2}},
     "stroke": {"field": "s", "type": "nominal", "scale": {"domain": ["Site-A","Site-B","Site-C"], "range": ["#F8766D","#00BA38","#619CFF"]}, "legend": null}}},
   {"data": {"name": "box"}, "transform": [{"filter": "datum.p == 1"}], "mark": {"type": "bar", "height": {"band": 0.75}, "fillOpacity": 0, "strokeWidth": 3}, "encoding": {
     "x": {"field": "m", "type": "quantitative", "axis": {"title": null, "domain": false, "grid": true, "values": [30,35,40,45,50,55,60,65,70,75,80], "labels": false, "ticks": false, "gridColor": "#EBEBEB", "gridWidth": {"condition": {"test": "datum.value % 10 !== 0", "value": 1.1}, "value": 2}}},
     "x2": {"field": "m"},
     "y": {"field": "s", "type": "nominal", "axis": {"title": null, "domain": false, "grid": true, "bandPosition": 0.5, "labelFontSize": 24.5, "labelColor": "#4D4D4D", "labelPadding": 8, "tickSize": 8, "tickWidth": 2, "tickColor": "#333333", "gridColor": "#EBEBEB", "gridWidth": 2}},
     "stroke": {"field": "s", "type": "nominal", "scale": {"domain": ["Site-A","Site-B","Site-C"], "range": ["#F8766D","#00BA38","#619CFF"]}, "legend": null}}}
  ]}
 ]},
 {"bounds": "flush", "spacing": 0, "vconcat": [
  {"width": 572, "height": 47, "view": {"fill": "#D9D9D9", "stroke": "#333333", "strokeWidth": 1.6}, "data": {"name": "strips"}, "transform": [{"filter": "datum.p == 2"}], "mark": {"type": "text", "fontSize": 21.5, "color": "#1A1A1A"}, "encoding": {"text": {"field": "t"}}},
  {"width": 572, "height": 323, "view": {"fill": "white", "stroke": "#333333", "strokeWidth": 1.6}, "resolve": {"scale": {"yOffset": "independent"}}, "layer": [
   {"data": {"name": "A"}, "mark": {"type": "circle", "size": 150, "color": "#F8766D", "opacity": 1}, "encoding": {
     "x": {"field": "x", "type": "quantitative", "scale": {"domain": [27.85, 82.25], "nice": false, "zero": false}, "axis": {"title": null, "domain": false, "grid": true, "values": [30,35,40,45,50,55,60,65,70,75,80], "labels": false, "ticks": false, "gridColor": "#EBEBEB", "gridWidth": {"condition": {"test": "datum.value % 10 !== 0", "value": 1.1}, "value": 2}}},
     "y": {"datum": "Site-A", "type": "nominal", "scale": {"type": "band", "domain": ["Site-C","Site-B","Site-A"], "paddingInner": 0, "paddingOuter": 0.1}, "axis": {"title": null, "domain": false, "grid": true, "bandPosition": 0.5, "labels": false, "ticks": false, "gridColor": "#EBEBEB", "gridWidth": 2}},
     "yOffset": {"field": "j", "type": "quantitative", "scale": {"domain": [-54, 54], "nice": false, "zero": false}}}},
   {"data": {"name": "B2"}, "mark": {"type": "circle", "size": 150, "color": "#00BA38", "opacity": 1}, "encoding": {
     "x": {"field": "x", "type": "quantitative", "axis": {"title": null, "domain": false, "grid": true, "values": [30,35,40,45,50,55,60,65,70,75,80], "labels": false, "ticks": false, "gridColor": "#EBEBEB", "gridWidth": {"condition": {"test": "datum.value % 10 !== 0", "value": 1.1}, "value": 2}}},
     "y": {"datum": "Site-B", "type": "nominal", "axis": {"title": null, "domain": false, "grid": true, "bandPosition": 0.5, "labels": false, "ticks": false, "gridColor": "#EBEBEB", "gridWidth": 2}},
     "yOffset": {"field": "j", "type": "quantitative", "scale": {"domain": [-54, 54], "nice": false, "zero": false}}}},
   {"data": {"name": "C"}, "mark": {"type": "circle", "size": 150, "color": "#619CFF", "opacity": 1}, "encoding": {
     "x": {"field": "x", "type": "quantitative", "axis": {"title": null, "domain": false, "grid": true, "values": [30,35,40,45,50,55,60,65,70,75,80], "labels": false, "ticks": false, "gridColor": "#EBEBEB", "gridWidth": {"condition": {"test": "datum.value % 10 !== 0", "value": 1.1}, "value": 2}}},
     "y": {"datum": "Site-C", "type": "nominal", "axis": {"title": null, "domain": false, "grid": true, "bandPosition": 0.5, "labels": false, "ticks": false, "gridColor": "#EBEBEB", "gridWidth": 2}},
     "yOffset": {"field": "j", "type": "quantitative", "scale": {"domain": [-54, 54], "nice": false, "zero": false}}}},
   {"data": {"name": "box"}, "transform": [{"filter": "datum.p == 2"}], "mark": {"type": "bar", "height": {"band": 0.75}, "fill": "#FFFFFF", "fillOpacity": 0.5, "strokeWidth": 2}, "encoding": {
     "x": {"field": "q1", "type": "quantitative", "axis": {"title": null, "domain": false, "grid": true, "values": [30,35,40,45,50,55,60,65,70,75,80], "labels": false, "ticks": false, "gridColor": "#EBEBEB", "gridWidth": {"condition": {"test": "datum.value % 10 !== 0", "value": 1.1}, "value": 2}}},
     "x2": {"field": "q3"},
     "y": {"field": "s", "type": "nominal", "axis": {"title": null, "domain": false, "grid": true, "bandPosition": 0.5, "labels": false, "ticks": false, "gridColor": "#EBEBEB", "gridWidth": 2}},
     "stroke": {"field": "s", "type": "nominal", "scale": {"domain": ["Site-A","Site-B","Site-C"], "range": ["#F8766D","#00BA38","#619CFF"]}, "legend": null}}},
   {"data": {"name": "box"}, "transform": [{"filter": "datum.p == 2"}], "mark": {"type": "bar", "height": {"band": 0.75}, "fillOpacity": 0, "strokeWidth": 3}, "encoding": {
     "x": {"field": "m", "type": "quantitative", "axis": {"title": null, "domain": false, "grid": true, "values": [30,35,40,45,50,55,60,65,70,75,80], "labels": false, "ticks": false, "gridColor": "#EBEBEB", "gridWidth": {"condition": {"test": "datum.value % 10 !== 0", "value": 1.1}, "value": 2}}},
     "x2": {"field": "m"},
     "y": {"field": "s", "type": "nominal", "axis": {"title": null, "domain": false, "grid": true, "bandPosition": 0.5, "labels": false, "ticks": false, "gridColor": "#EBEBEB", "gridWidth": 2}},
     "stroke": {"field": "s", "type": "nominal", "scale": {"domain": ["Site-A","Site-B","Site-C"], "range": ["#F8766D","#00BA38","#619CFF"]}, "legend": null}}}
  ]}
 ]}
]},
{"spacing": 18, "hconcat": [
 {"bounds": "flush", "spacing": 0, "vconcat": [
  {"width": 573, "height": 47, "view": {"fill": "#D9D9D9", "stroke": "#333333", "strokeWidth": 1.6}, "data": {"name": "strips"}, "transform": [{"filter": "datum.p == 3"}], "mark": {"type": "text", "fontSize": 21.5, "color": "#1A1A1A"}, "encoding": {"text": {"field": "t"}}},
  {"width": 573, "height": 323, "view": {"fill": "white", "stroke": "#333333", "strokeWidth": 1.6}, "resolve": {"scale": {"yOffset": "independent"}}, "layer": [
   {"data": {"name": "A"}, "mark": {"type": "circle", "size": 150, "color": "#F8766D", "opacity": 1}, "encoding": {
     "x": {"field": "x", "type": "quantitative", "scale": {"domain": [27.85, 82.25], "nice": false, "zero": false}, "axis": {"title": null, "domain": false, "grid": true, "values": [30,35,40,45,50,55,60,65,70,75,80], "labelExpr": "datum.value % 10 === 0 ? datum.label : ''", "labelOverlap": false, "labelFlush": false, "labelFontSize": 24.5, "labelColor": "#4D4D4D", "labelPadding": 6, "tickSize": 8, "tickWidth": 2, "tickColor": "#333333", "tickOpacity": {"condition": {"test": "datum.value % 10 !== 0", "value": 0}, "value": 1}, "gridColor": "#EBEBEB", "gridWidth": {"condition": {"test": "datum.value % 10 !== 0", "value": 1.1}, "value": 2}}},
     "y": {"datum": "Site-A", "type": "nominal", "scale": {"type": "band", "domain": ["Site-C","Site-B","Site-A"], "paddingInner": 0, "paddingOuter": 0.1}, "axis": {"title": null, "domain": false, "grid": true, "bandPosition": 0.5, "labelFontSize": 24.5, "labelColor": "#4D4D4D", "labelPadding": 8, "tickSize": 8, "tickWidth": 2, "tickColor": "#333333", "gridColor": "#EBEBEB", "gridWidth": 2}},
     "yOffset": {"field": "j", "type": "quantitative", "scale": {"domain": [-54, 54], "nice": false, "zero": false}}}},
   {"data": {"name": "B3"}, "mark": {"type": "circle", "size": 150, "color": "#00BA38", "opacity": 1}, "encoding": {
     "x": {"field": "x", "type": "quantitative", "axis": {"title": null, "domain": false, "grid": true, "values": [30,35,40,45,50,55,60,65,70,75,80], "labelExpr": "datum.value % 10 === 0 ? datum.label : ''", "labelOverlap": false, "labelFlush": false, "labelFontSize": 24.5, "labelColor": "#4D4D4D", "labelPadding": 6, "tickSize": 8, "tickWidth": 2, "tickColor": "#333333", "tickOpacity": {"condition": {"test": "datum.value % 10 !== 0", "value": 0}, "value": 1}, "gridColor": "#EBEBEB", "gridWidth": {"condition": {"test": "datum.value % 10 !== 0", "value": 1.1}, "value": 2}}},
     "y": {"datum": "Site-B", "type": "nominal", "axis": {"title": null, "domain": false, "grid": true, "bandPosition": 0.5, "labelFontSize": 24.5, "labelColor": "#4D4D4D", "labelPadding": 8, "tickSize": 8, "tickWidth": 2, "tickColor": "#333333", "gridColor": "#EBEBEB", "gridWidth": 2}},
     "yOffset": {"field": "j", "type": "quantitative", "scale": {"domain": [-54, 54], "nice": false, "zero": false}}}},
   {"data": {"name": "C"}, "mark": {"type": "circle", "size": 150, "color": "#619CFF", "opacity": 1}, "encoding": {
     "x": {"field": "x", "type": "quantitative", "axis": {"title": null, "domain": false, "grid": true, "values": [30,35,40,45,50,55,60,65,70,75,80], "labelExpr": "datum.value % 10 === 0 ? datum.label : ''", "labelOverlap": false, "labelFlush": false, "labelFontSize": 24.5, "labelColor": "#4D4D4D", "labelPadding": 6, "tickSize": 8, "tickWidth": 2, "tickColor": "#333333", "tickOpacity": {"condition": {"test": "datum.value % 10 !== 0", "value": 0}, "value": 1}, "gridColor": "#EBEBEB", "gridWidth": {"condition": {"test": "datum.value % 10 !== 0", "value": 1.1}, "value": 2}}},
     "y": {"datum": "Site-C", "type": "nominal", "axis": {"title": null, "domain": false, "grid": true, "bandPosition": 0.5, "labelFontSize": 24.5, "labelColor": "#4D4D4D", "labelPadding": 8, "tickSize": 8, "tickWidth": 2, "tickColor": "#333333", "gridColor": "#EBEBEB", "gridWidth": 2}},
     "yOffset": {"field": "j", "type": "quantitative", "scale": {"domain": [-54, 54], "nice": false, "zero": false}}}},
   {"data": {"name": "box"}, "transform": [{"filter": "datum.p == 3"}], "mark": {"type": "bar", "height": {"band": 0.75}, "fill": "#FFFFFF", "fillOpacity": 0.5, "strokeWidth": 2}, "encoding": {
     "x": {"field": "q1", "type": "quantitative", "axis": {"title": null, "domain": false, "grid": true, "values": [30,35,40,45,50,55,60,65,70,75,80], "labelExpr": "datum.value % 10 === 0 ? datum.label : ''", "labelOverlap": false, "labelFlush": false, "labelFontSize": 24.5, "labelColor": "#4D4D4D", "labelPadding": 6, "tickSize": 8, "tickWidth": 2, "tickColor": "#333333", "tickOpacity": {"condition": {"test": "datum.value % 10 !== 0", "value": 0}, "value": 1}, "gridColor": "#EBEBEB", "gridWidth": {"condition": {"test": "datum.value % 10 !== 0", "value": 1.1}, "value": 2}}},
     "x2": {"field": "q3"},
     "y": {"field": "s", "type": "nominal", "axis": {"title": null, "domain": false, "grid": true, "bandPosition": 0.5, "labelFontSize": 24.5, "labelColor": "#4D4D4D", "labelPadding": 8, "tickSize": 8, "tickWidth": 2, "tickColor": "#333333", "gridColor": "#EBEBEB", "gridWidth": 2}},
     "stroke": {"field": "s", "type": "nominal", "scale": {"domain": ["Site-A","Site-B","Site-C"], "range": ["#F8766D","#00BA38","#619CFF"]}, "legend": null}}},
   {"data": {"name": "box"}, "transform": [{"filter": "datum.p == 3"}], "mark": {"type": "bar", "height": {"band": 0.75}, "fillOpacity": 0, "strokeWidth": 3}, "encoding": {
     "x": {"field": "m", "type": "quantitative", "axis": {"title": null, "domain": false, "grid": true, "values": [30,35,40,45,50,55,60,65,70,75,80], "labelExpr": "datum.value % 10 === 0 ? datum.label : ''", "labelOverlap": false, "labelFlush": false, "labelFontSize": 24.5, "labelColor": "#4D4D4D", "labelPadding": 6, "tickSize": 8, "tickWidth": 2, "tickColor": "#333333", "tickOpacity": {"condition": {"test": "datum.value % 10 !== 0", "value": 0}, "value": 1}, "gridColor": "#EBEBEB", "gridWidth": {"condition": {"test": "datum.value % 10 !== 0", "value": 1.1}, "value": 2}}},
     "x2": {"field": "m"},
     "y": {"field": "s", "type": "nominal", "axis": {"title": null, "domain": false, "grid": true, "bandPosition": 0.5, "labelFontSize": 24.5, "labelColor": "#4D4D4D", "labelPadding": 8, "tickSize": 8, "tickWidth": 2, "tickColor": "#333333", "gridColor": "#EBEBEB", "gridWidth": 2}},
     "stroke": {"field": "s", "type": "nominal", "scale": {"domain": ["Site-A","Site-B","Site-C"], "range": ["#F8766D","#00BA38","#619CFF"]}, "legend": null}}}
  ]}
 ]},
 {"bounds": "flush", "spacing": 0, "vconcat": [
  {"width": 572, "height": 47, "view": {"fill": "#D9D9D9", "stroke": "#333333", "strokeWidth": 1.6}, "data": {"name": "strips"}, "transform": [{"filter": "datum.p == 4"}], "mark": {"type": "text", "fontSize": 21.5, "color": "#1A1A1A"}, "encoding": {"text": {"field": "t"}}},
  {"width": 572, "height": 323, "view": {"fill": "white", "stroke": "#333333", "strokeWidth": 1.6}, "resolve": {"scale": {"yOffset": "independent"}}, "layer": [
   {"data": {"name": "A"}, "mark": {"type": "circle", "size": 150, "color": "#F8766D", "opacity": 1}, "encoding": {
     "x": {"field": "x", "type": "quantitative", "scale": {"domain": [27.85, 82.25], "nice": false, "zero": false}, "axis": {"title": null, "domain": false, "grid": true, "values": [30,35,40,45,50,55,60,65,70,75,80], "labelExpr": "datum.value % 10 === 0 ? datum.label : ''", "labelOverlap": false, "labelFlush": false, "labelFontSize": 24.5, "labelColor": "#4D4D4D", "labelPadding": 6, "tickSize": 8, "tickWidth": 2, "tickColor": "#333333", "tickOpacity": {"condition": {"test": "datum.value % 10 !== 0", "value": 0}, "value": 1}, "gridColor": "#EBEBEB", "gridWidth": {"condition": {"test": "datum.value % 10 !== 0", "value": 1.1}, "value": 2}}},
     "y": {"datum": "Site-A", "type": "nominal", "scale": {"type": "band", "domain": ["Site-C","Site-B","Site-A"], "paddingInner": 0, "paddingOuter": 0.1}, "axis": {"title": null, "domain": false, "grid": true, "bandPosition": 0.5, "labels": false, "ticks": false, "gridColor": "#EBEBEB", "gridWidth": 2}},
     "yOffset": {"field": "j", "type": "quantitative", "scale": {"domain": [-54, 54], "nice": false, "zero": false}}}},
   {"data": {"name": "B4"}, "mark": {"type": "circle", "size": 150, "color": "#00BA38", "opacity": 1}, "encoding": {
     "x": {"field": "x", "type": "quantitative", "axis": {"title": null, "domain": false, "grid": true, "values": [30,35,40,45,50,55,60,65,70,75,80], "labelExpr": "datum.value % 10 === 0 ? datum.label : ''", "labelOverlap": false, "labelFlush": false, "labelFontSize": 24.5, "labelColor": "#4D4D4D", "labelPadding": 6, "tickSize": 8, "tickWidth": 2, "tickColor": "#333333", "tickOpacity": {"condition": {"test": "datum.value % 10 !== 0", "value": 0}, "value": 1}, "gridColor": "#EBEBEB", "gridWidth": {"condition": {"test": "datum.value % 10 !== 0", "value": 1.1}, "value": 2}}},
     "y": {"datum": "Site-B", "type": "nominal", "axis": {"title": null, "domain": false, "grid": true, "bandPosition": 0.5, "labels": false, "ticks": false, "gridColor": "#EBEBEB", "gridWidth": 2}},
     "yOffset": {"field": "j", "type": "quantitative", "scale": {"domain": [-54, 54], "nice": false, "zero": false}}}},
   {"data": {"name": "C"}, "mark": {"type": "circle", "size": 150, "color": "#619CFF", "opacity": 1}, "encoding": {
     "x": {"field": "x", "type": "quantitative", "axis": {"title": null, "domain": false, "grid": true, "values": [30,35,40,45,50,55,60,65,70,75,80], "labelExpr": "datum.value % 10 === 0 ? datum.label : ''", "labelOverlap": false, "labelFlush": false, "labelFontSize": 24.5, "labelColor": "#4D4D4D", "labelPadding": 6, "tickSize": 8, "tickWidth": 2, "tickColor": "#333333", "tickOpacity": {"condition": {"test": "datum.value % 10 !== 0", "value": 0}, "value": 1}, "gridColor": "#EBEBEB", "gridWidth": {"condition": {"test": "datum.value % 10 !== 0", "value": 1.1}, "value": 2}}},
     "y": {"datum": "Site-C", "type": "nominal", "axis": {"title": null, "domain": false, "grid": true, "bandPosition": 0.5, "labels": false, "ticks": false, "gridColor": "#EBEBEB", "gridWidth": 2}},
     "yOffset": {"field": "j", "type": "quantitative", "scale": {"domain": [-54, 54], "nice": false, "zero": false}}}},
   {"data": {"name": "box"}, "transform": [{"filter": "datum.p == 4"}], "mark": {"type": "bar", "height": {"band": 0.75}, "fill": "#FFFFFF", "fillOpacity": 0.5, "strokeWidth": 2}, "encoding": {
     "x": {"field": "q1", "type": "quantitative", "axis": {"title": null, "domain": false, "grid": true, "values": [30,35,40,45,50,55,60,65,70,75,80], "labelExpr": "datum.value % 10 === 0 ? datum.label : ''", "labelOverlap": false, "labelFlush": false, "labelFontSize": 24.5, "labelColor": "#4D4D4D", "labelPadding": 6, "tickSize": 8, "tickWidth": 2, "tickColor": "#333333", "tickOpacity": {"condition": {"test": "datum.value % 10 !== 0", "value": 0}, "value": 1}, "gridColor": "#EBEBEB", "gridWidth": {"condition": {"test": "datum.value % 10 !== 0", "value": 1.1}, "value": 2}}},
     "x2": {"field": "q3"},
     "y": {"field": "s", "type": "nominal", "axis": {"title": null, "domain": false, "grid": true, "bandPosition": 0.5, "labels": false, "ticks": false, "gridColor": "#EBEBEB", "gridWidth": 2}},
     "stroke": {"field": "s", "type": "nominal", "scale": {"domain": ["Site-A","Site-B","Site-C"], "range": ["#F8766D","#00BA38","#619CFF"]}, "legend": null}}},
   {"data": {"name": "box"}, "transform": [{"filter": "datum.p == 4"}], "mark": {"type": "bar", "height": {"band": 0.75}, "fillOpacity": 0, "strokeWidth": 3}, "encoding": {
     "x": {"field": "m", "type": "quantitative", "axis": {"title": null, "domain": false, "grid": true, "values": [30,35,40,45,50,55,60,65,70,75,80], "labelExpr": "datum.value % 10 === 0 ? datum.label : ''", "labelOverlap": false, "labelFlush": false, "labelFontSize": 24.5, "labelColor": "#4D4D4D", "labelPadding": 6, "tickSize": 8, "tickWidth": 2, "tickColor": "#333333", "tickOpacity": {"condition": {"test": "datum.value % 10 !== 0", "value": 0}, "value": 1}, "gridColor": "#EBEBEB", "gridWidth": {"condition": {"test": "datum.value % 10 !== 0", "value": 1.1}, "value": 2}}},
     "x2": {"field": "m"},
     "y": {"field": "s", "type": "nominal", "axis": {"title": null, "domain": false, "grid": true, "bandPosition": 0.5, "labels": false, "ticks": false, "gridColor": "#EBEBEB", "gridWidth": 2}},
     "stroke": {"field": "s", "type": "nominal", "scale": {"domain": ["Site-A","Site-B","Site-C"], "range": ["#F8766D","#00BA38","#619CFF"]}, "legend": null}}}
  ]}
 ]}
]}
]
}
